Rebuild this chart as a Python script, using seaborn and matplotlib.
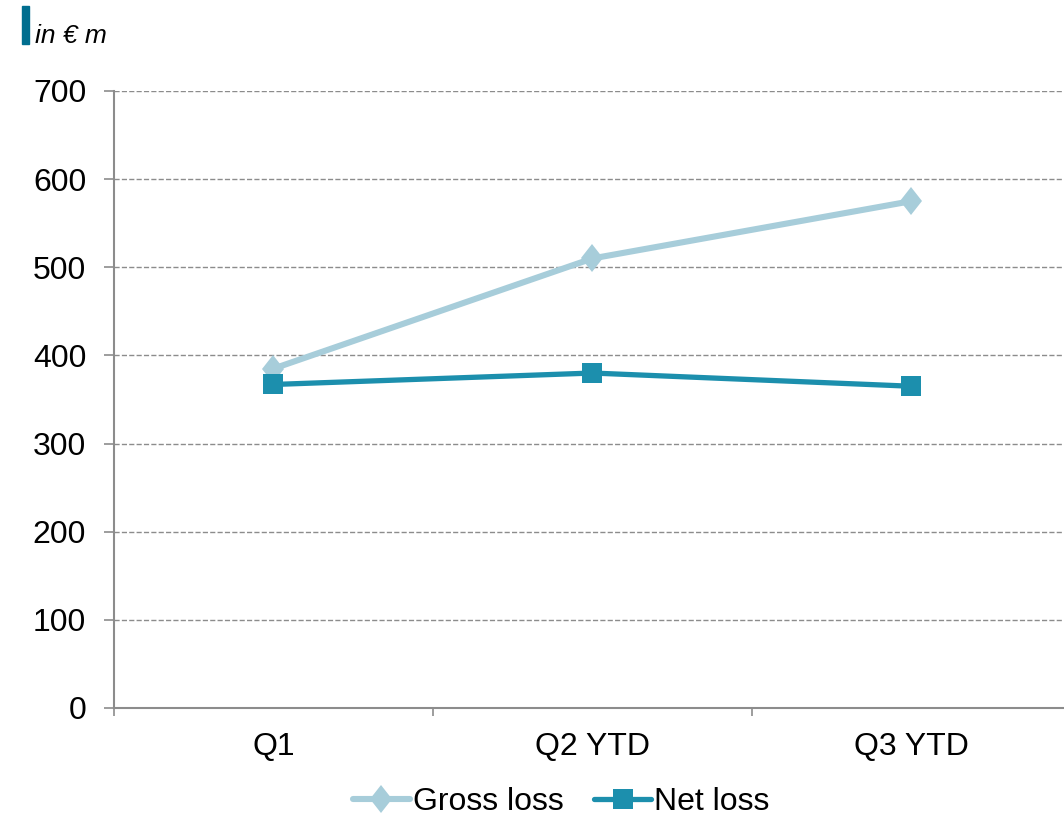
import pandas as pd
import matplotlib.pyplot as plt
import seaborn as sns
from matplotlib.patches import Rectangle
from matplotlib.markers import MarkerStyle
from matplotlib.transforms import Affine2D

# Datos
trimestres = ['Q1', 'Q2 YTD', 'Q3 YTD']
perdida_bruta = [385, 510, 575]
perdida_neta = [367, 380, 365]

color_bruta = '#A7CDDA'
color_neta = '#1C8FAD'

sns.set_style('white')
plt.rcParams['font.family'] = ['Liberation Sans', 'DejaVu Sans']
plt.rcParams['text.color'] = 'black'
plt.rcParams['xtick.color'] = 'black'
plt.rcParams['ytick.color'] = 'black'

fig = plt.figure(figsize=(10.64, 8.18), dpi=100)
ax = fig.add_axes([0.1071, 0.1345, 0.8994, 0.7543])

df = pd.DataFrame({'trimestre': trimestres, 'Gross loss': perdida_bruta, 'Net loss': perdida_neta})

# rombo algo más alto que ancho, como en el original
rombo = MarkerStyle('D', transform=Affine2D().scale(0.78, 1.0))

sns.lineplot(data=df, x='trimestre', y='Gross loss', ax=ax, color=color_bruta,
             linewidth=4.4, marker=rombo, markersize=14.5, markeredgewidth=0,
             label='Gross loss', sort=False)
sns.lineplot(data=df, x='trimestre', y='Net loss', ax=ax, color=color_neta,
             linewidth=3.8, marker='s', markersize=14, markeredgewidth=0,
             label='Net loss', sort=False)

ax.set_xlim(-0.5, 2.5)
ax.set_ylim(0, 700)
ax.set_yticks(range(0, 701, 100))
ax.set_xticks([-0.5, 0.5, 1.5, 2.5])
ax.set_xticklabels([])
ax.set_xticks(range(len(trimestres)), minor=True)
ax.set_xticklabels(trimestres, minor=True)
ax.tick_params(axis='x', which='minor', length=0, pad=17, labelsize=23)
ax.tick_params(axis='x', which='major', direction='out', length=6, width=1.2, color='#8C8C8C', bottom=True)
ax.tick_params(axis='y', direction='out', length=7, width=1.2, color='#8C8C8C', left=True, labelsize=23, pad=13)
ax.set_xlabel('')
ax.set_ylabel('')

ax.yaxis.grid(True, linestyle='--', color='#8C8C8C', linewidth=1.0)
ax.set_axisbelow(True)
for lado in ['top', 'right']:
    ax.spines[lado].set_visible(False)
for lado in ['left', 'bottom']:
    ax.spines[lado].set_color('#8C8C8C')
    ax.spines[lado].set_linewidth(1.5)

ax.legend(loc='center', bbox_to_anchor=(561 / 1064, 1 - 802 / 818), bbox_transform=fig.transFigure,
          ncol=2, frameon=False, fontsize=23, handlelength=1.8, handletextpad=0.08,
          columnspacing=0.95, borderpad=0)

# Encabezado de unidades
fig.patches.append(Rectangle((22 / 1064, 1 - 44 / 818), 7 / 1064, 38 / 818,
                             transform=fig.transFigure, color='#006E8F'))
fig.text(35 / 1064, 1 - 43 / 818, 'in € m', fontsize=19, style='italic')

fig.savefig('out.png', dpi=100)
